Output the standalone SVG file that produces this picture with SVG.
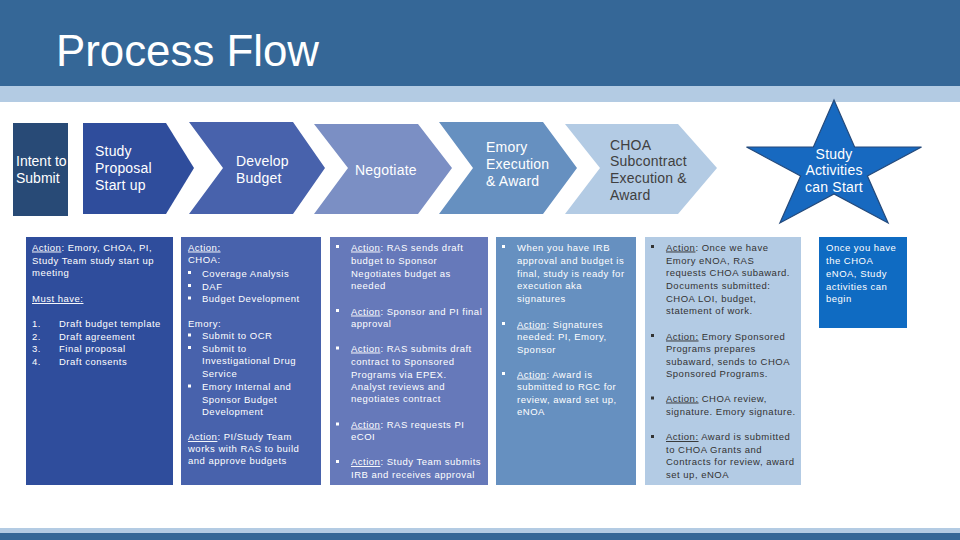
<svg xmlns="http://www.w3.org/2000/svg" width="960" height="540" viewBox="0 0 960 540">
<style>
.hd{font-family:"Liberation Sans",Arial,sans-serif;font-size:14px;fill:#ffffff;letter-spacing:0.2px}
.hdk{font-family:"Liberation Sans",Arial,sans-serif;font-size:14px;fill:#404040;letter-spacing:0.2px}
.t{font-family:"Liberation Sans",Arial,sans-serif;font-size:9.5px;fill:#ffffff;letter-spacing:0.5px}
.tk{font-family:"Liberation Sans",Arial,sans-serif;font-size:9.5px;fill:#333333;letter-spacing:0.5px}
.u{text-decoration:underline}
</style>
<rect x="0" y="0" width="960" height="86" fill="#356797"/>
<rect x="0" y="86" width="960" height="16" fill="#B3CBE3"/>
<text x="56" y="66" font-family="Liberation Sans, Arial, sans-serif" font-size="44" fill="#ffffff" textLength="263" lengthAdjust="spacingAndGlyphs">Process Flow</text>
<rect x="0" y="528" width="960" height="5" fill="#B3CBE3"/>
<rect x="0" y="533" width="960" height="7" fill="#356797"/>

<g id="intent">
<rect x="13" y="123" width="55" height="93" fill="#284A76"/>
<text class="hd" font-size="13" style="letter-spacing:0"><tspan x="16" y="166">Intent to</tspan><tspan x="16" y="183">Submit</tspan></text>
</g>
<g id="study-proposal">
<polygon points="83,123 166,123 194,168 166,214 83,214" fill="#2F4D9C"/>
<text class="hd"><tspan x="95" y="156">Study</tspan><tspan x="95" y="173">Proposal</tspan><tspan x="95" y="190">Start up</tspan></text>
</g>
<g id="develop-budget">
<polygon points="189,122 293,122 325,168 293,214 189,214 223,168" fill="#4862AC"/>
<text class="hd"><tspan x="236" y="166">Develop</tspan><tspan x="236" y="183">Budget</tspan></text>
</g>
<g id="negotiate">
<polygon points="314,124 418,124 452,168 418,214 314,214 348,168" fill="#7B8FC4"/>
<text class="hd" x="355" y="175">Negotiate</text>
</g>
<g id="emory-execution">
<polygon points="439,122 543,122 577,168 543,214 439,214 473,168" fill="#6690C0"/>
<text class="hd"><tspan x="486" y="152">Emory</tspan><tspan x="486" y="169">Execution</tspan><tspan x="486" y="186">&amp; Award</tspan></text>
</g>
<g id="choa-subcontract">
<polygon points="565,124 678,124 717,168 678,214 565,214 600,168" fill="#B3CBE4"/>
<text class="hdk"><tspan x="610" y="150">CHOA</tspan><tspan x="610" y="166">Subcontract</tspan><tspan x="610" y="183">Execution &amp;</tspan><tspan x="610" y="200">Award</tspan></text>
</g>
<g id="study-activities">
<polygon points="834,100 854.6,147 921.5,147 867.4,176 888.1,223 834,194 779.9,223 800.6,176 746.5,147 813.4,147" fill="#1769C0" stroke="#24497A" stroke-width="1.2"/>
<text class="hd" text-anchor="middle"><tspan x="834" y="159">Study</tspan><tspan x="834" y="175">Activities</tspan><tspan x="834" y="192">can Start</tspan></text>
</g>

<g id="box-study-proposal">
<rect x="26" y="237" width="147" height="248" fill="#2F4D9C"/>
<text class="t"><tspan x="32" y="250.5"><tspan class="u">Action</tspan>: Emory, CHOA, PI,</tspan><tspan x="32" y="263.5">Study Team study start up</tspan><tspan x="32" y="276">meeting</tspan><tspan x="32" y="302" class="u">Must have:</tspan></text>
<text class="t"><tspan x="32" y="327">1.</tspan><tspan x="32" y="339.5">2.</tspan><tspan x="32" y="352">3.</tspan><tspan x="32" y="364.5">4.</tspan></text>
<text class="t"><tspan x="59" y="327">Draft budget template</tspan><tspan x="59" y="339.5">Draft agreement</tspan><tspan x="59" y="352">Final proposal</tspan><tspan x="59" y="364.5">Draft consents</tspan></text>
</g>
<g id="box-develop-budget">
<rect x="181" y="237" width="140" height="248" fill="#4862AC"/>
<text class="t"><tspan x="188" y="250.5" class="u">Action:</tspan><tspan x="188" y="263">CHOA:</tspan></text>
<g fill="#ffffff"><rect x="188" y="271" width="3" height="3"/><rect x="188" y="284" width="3" height="3"/><rect x="188" y="296.5" width="3" height="3"/><rect x="188" y="333.5" width="3" height="3"/><rect x="188" y="346" width="3" height="3"/><rect x="188" y="384.5" width="3" height="3"/></g>
<text class="t"><tspan x="202" y="276.5">Coverage Analysis</tspan><tspan x="202" y="289.5">DAF</tspan><tspan x="202" y="302">Budget Development</tspan><tspan x="188" y="326.5">Emory:</tspan><tspan x="202" y="339">Submit to OCR</tspan><tspan x="202" y="351.5">Submit to</tspan><tspan x="202" y="364">Investigational Drug</tspan><tspan x="202" y="377">Service</tspan><tspan x="202" y="390">Emory Internal and</tspan><tspan x="202" y="402.5">Sponsor Budget</tspan><tspan x="202" y="415">Development</tspan><tspan x="188" y="440"><tspan class="u">Action</tspan>: PI/Study Team</tspan><tspan x="188" y="452">works with RAS to build</tspan><tspan x="188" y="464">and approve budgets</tspan></text>
</g>
<g id="box-negotiate">
<rect x="330" y="237" width="158" height="248" fill="#6679BA"/>
<g fill="#ffffff"><rect x="336" y="245" width="3" height="3"/><rect x="336" y="309" width="3" height="3"/><rect x="336" y="346.5" width="3" height="3"/><rect x="336" y="422.5" width="3" height="3"/><rect x="336" y="460" width="3" height="3"/></g>
<text class="t"><tspan x="351" y="250.5"><tspan class="u">Action</tspan>: RAS sends draft</tspan><tspan x="351" y="264">budget to Sponsor</tspan><tspan x="351" y="276.5">Negotiates budget as</tspan><tspan x="351" y="289">needed</tspan><tspan x="351" y="314.5"><tspan class="u">Action</tspan>: Sponsor and PI final</tspan><tspan x="351" y="327">approval</tspan><tspan x="351" y="351.5"><tspan class="u">Action</tspan>: RAS submits draft</tspan><tspan x="351" y="365">contract to Sponsored</tspan><tspan x="351" y="377.5">Programs via EPEX.</tspan><tspan x="351" y="389.5">Analyst reviews and</tspan><tspan x="351" y="401.5">negotiates contract</tspan><tspan x="351" y="427.5"><tspan class="u">Action</tspan>: RAS requests PI</tspan><tspan x="351" y="440">eCOI</tspan><tspan x="351" y="465"><tspan class="u">Action</tspan>: Study Team submits</tspan><tspan x="351" y="478">IRB and receives approval</tspan></text>
</g>
<g id="box-emory-execution">
<rect x="496" y="237" width="140" height="248" fill="#6690C0"/>
<g fill="#ffffff"><rect x="502" y="245" width="3" height="3"/><rect x="502" y="322" width="3" height="3"/><rect x="502" y="372" width="3" height="3"/></g>
<text class="t"><tspan x="517" y="250.5">When you have IRB</tspan><tspan x="517" y="264">approval and budget is</tspan><tspan x="517" y="276.5">final, study is ready for</tspan><tspan x="517" y="289">execution aka</tspan><tspan x="517" y="302">signatures</tspan><tspan x="517" y="327.5"><tspan class="u">Action</tspan>: Signatures</tspan><tspan x="517" y="340">needed: PI, Emory,</tspan><tspan x="517" y="352.5">Sponsor</tspan><tspan x="517" y="377.5"><tspan class="u">Action</tspan>: Award is</tspan><tspan x="517" y="390">submitted to RGC for</tspan><tspan x="517" y="402.5">review, award set up,</tspan><tspan x="517" y="415">eNOA</tspan></text>
</g>
<g id="box-choa-subcontract">
<rect x="645" y="237" width="156" height="248" fill="#B3CBE4"/>
<g fill="#333333"><rect x="651" y="245" width="3" height="3"/><rect x="651" y="334" width="3" height="3"/><rect x="651" y="396.5" width="3" height="3"/><rect x="651" y="435" width="3" height="3"/></g>
<text class="tk"><tspan x="666" y="250.5"><tspan class="u">Action</tspan>: Once we have</tspan><tspan x="666" y="263.5">Emory eNOA, RAS</tspan><tspan x="666" y="276">requests CHOA  subaward.</tspan><tspan x="666" y="288.5">Documents submitted:</tspan><tspan x="666" y="301.5">CHOA LOI, budget,</tspan><tspan x="666" y="314">statement of work.</tspan><tspan x="666" y="339.5"><tspan class="u">Action:</tspan> Emory Sponsored</tspan><tspan x="666" y="351.5">Programs prepares</tspan><tspan x="666" y="364.5">subaward, sends to CHOA</tspan><tspan x="666" y="376.5">Sponsored Programs.</tspan><tspan x="666" y="401.5"><tspan class="u">Action:</tspan> CHOA review,</tspan><tspan x="666" y="414.5">signature. Emory signature.</tspan><tspan x="666" y="440"><tspan class="u">Action:</tspan> Award is submitted</tspan><tspan x="666" y="452.5">to CHOA Grants and</tspan><tspan x="666" y="465">Contracts for review, award</tspan><tspan x="666" y="477.5">set up, eNOA</tspan></text>
</g>
<g id="box-study-activities">
<rect x="819" y="237" width="88" height="91" fill="#0F6BC2"/>
<text class="t"><tspan x="826" y="250.5">Once you have</tspan><tspan x="826" y="264">the CHOA</tspan><tspan x="826" y="276.5">eNOA, Study</tspan><tspan x="826" y="289.5">activities can</tspan><tspan x="826" y="302">begin</tspan></text>
</g>
<g id="connectors"/>
</svg>
